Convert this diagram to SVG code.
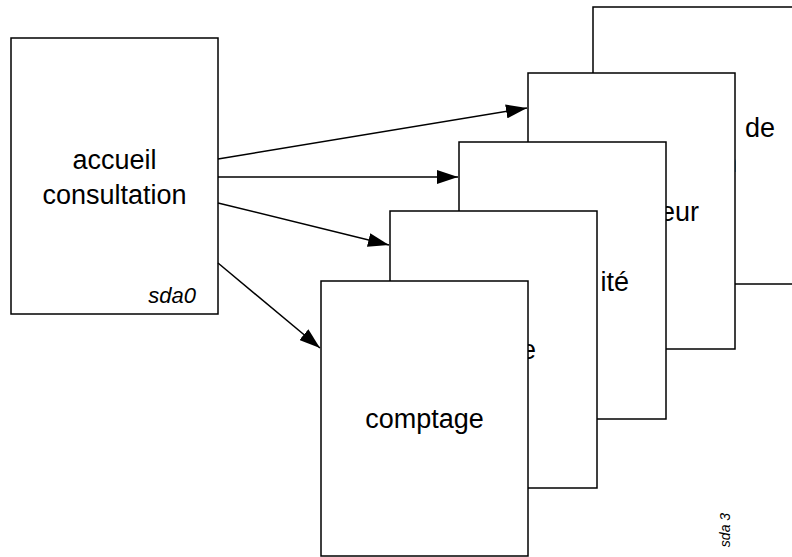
<svg xmlns="http://www.w3.org/2000/svg" width="792" height="557" viewBox="0 0 792 557">
<defs>
<style>
.box{fill:#fff;stroke:#000;stroke-width:1.5}
.lbl{font-family:"Liberation Sans",Arial,sans-serif;font-size:27px;fill:#000}
.tag{font-family:"Liberation Sans",Arial,sans-serif;font-style:italic;fill:#000}
.edge{fill:none;stroke:#000;stroke-width:1.5}
</style>
<marker id="arr" markerUnits="userSpaceOnUse" markerWidth="22" markerHeight="14" refX="21" refY="7" orient="auto">
<path d="M0,0 L21,7 L0,14 z" fill="#000"/>
</marker>
</defs>
<rect width="792" height="557" fill="#fff"/>
<g id="node-sda0">
<rect class="box" x="11" y="38" width="207" height="276"/>
<text class="lbl" x="114.5" y="169" text-anchor="middle">accueil</text>
<text class="lbl" x="114.5" y="204" text-anchor="middle">consultation</text>
<text class="tag" x="196" y="303" font-size="22" text-anchor="end">sda0</text>
</g>
<g id="node-back">
<rect class="box" x="593" y="7" width="220" height="277"/>
<text class="lbl" x="775" y="137" text-anchor="end">de</text>
<text class="lbl" x="737" y="172" text-anchor="end">n</text>
</g>
<g id="node-b2">
<rect class="box" x="528" y="73" width="207" height="276"/>
<text class="lbl" x="699" y="221" text-anchor="end">eur</text>
</g>
<g id="node-b3">
<rect class="box" x="459" y="142" width="207" height="277"/>
<text class="lbl" x="629" y="291" text-anchor="end">ité</text>
</g>
<g id="node-b4">
<rect class="box" x="390" y="211" width="207" height="277"/>
<text class="lbl" x="536" y="359" text-anchor="end">e</text>
</g>
<g id="node-comptage">
<rect class="box" x="321" y="281" width="207" height="275"/>
<text class="lbl" x="424.5" y="428" text-anchor="middle">comptage</text>
</g>
<text class="tag" font-size="14" transform="translate(730,530) rotate(-90)" text-anchor="middle">sda 3</text>
<g id="connectors">
<line class="edge" x1="218" y1="159" x2="527" y2="108" marker-end="url(#arr)"/>
<line class="edge" x1="218" y1="177" x2="458" y2="177" marker-end="url(#arr)"/>
<line class="edge" x1="218" y1="203" x2="389" y2="245" marker-end="url(#arr)"/>
<line class="edge" x1="218" y1="263" x2="320" y2="348" marker-end="url(#arr)"/>
</g>
</svg>
